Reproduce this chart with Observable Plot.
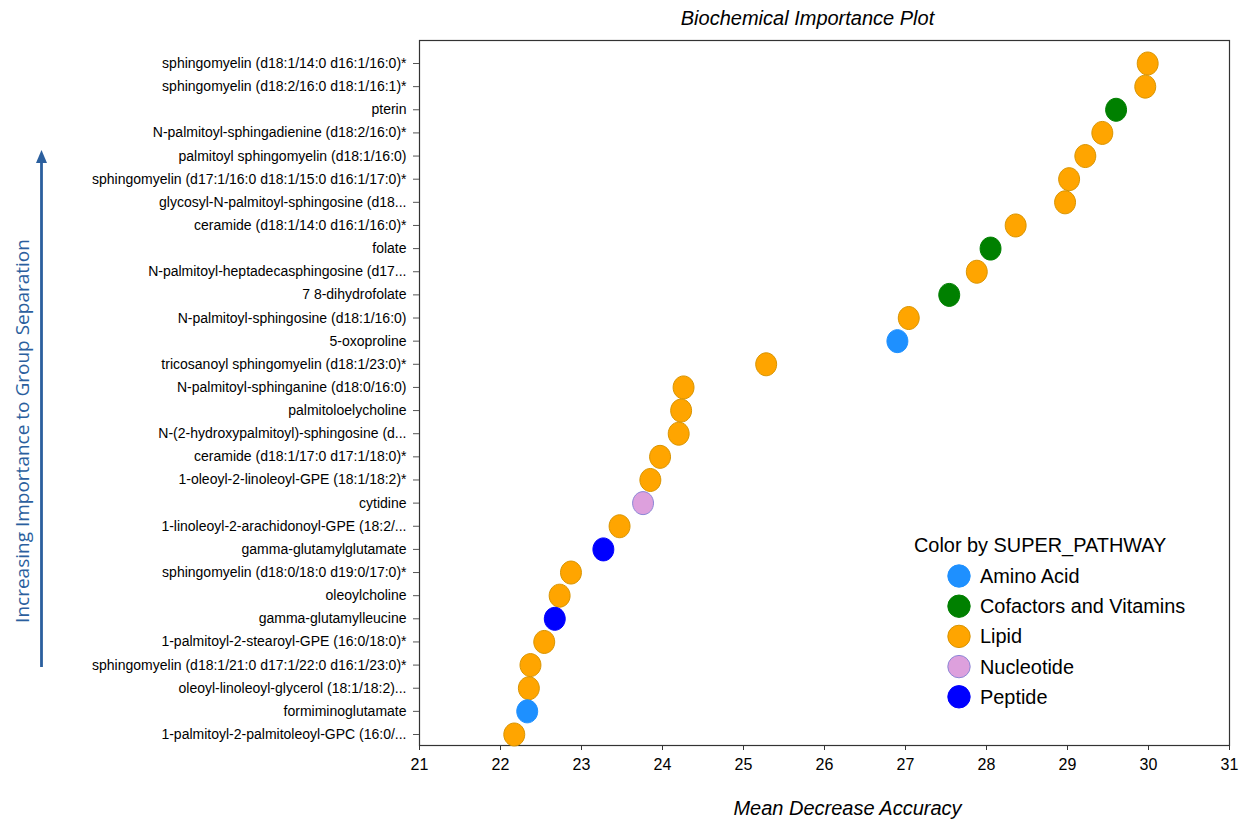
<!DOCTYPE html>
<html>
<head>
<meta charset="utf-8">
<script src="https://cdn.jsdelivr.net/npm/d3@7"></script>
<script src="https://cdn.jsdelivr.net/npm/@observablehq/plot@0.6"></script>
<style>
  html, body { margin: 0; padding: 0; background: #fff; }
  #chart { width: 1242px; height: 820px; }
</style>
</head>
<body>
<div id="chart"></div>
<script>
// ---- data (top row first) ----
const names = [
  "sphingomyelin (d18:1/14:0 d16:1/16:0)*",
  "sphingomyelin (d18:2/16:0 d18:1/16:1)*",
  "pterin",
  "N-palmitoyl-sphingadienine (d18:2/16:0)*",
  "palmitoyl sphingomyelin (d18:1/16:0)",
  "sphingomyelin (d17:1/16:0 d18:1/15:0 d16:1/17:0)*",
  "glycosyl-N-palmitoyl-sphingosine (d18...",
  "ceramide (d18:1/14:0 d16:1/16:0)*",
  "folate",
  "N-palmitoyl-heptadecasphingosine (d17...",
  "7 8-dihydrofolate",
  "N-palmitoyl-sphingosine (d18:1/16:0)",
  "5-oxoproline",
  "tricosanoyl sphingomyelin (d18:1/23:0)*",
  "N-palmitoyl-sphinganine (d18:0/16:0)",
  "palmitoloelycholine",
  "N-(2-hydroxypalmitoyl)-sphingosine (d...",
  "ceramide (d18:1/17:0 d17:1/18:0)*",
  "1-oleoyl-2-linoleoyl-GPE (18:1/18:2)*",
  "cytidine",
  "1-linoleoyl-2-arachidonoyl-GPE (18:2/...",
  "gamma-glutamylglutamate",
  "sphingomyelin (d18:0/18:0 d19:0/17:0)*",
  "oleoylcholine",
  "gamma-glutamylleucine",
  "1-palmitoyl-2-stearoyl-GPE (16:0/18:0)*",
  "sphingomyelin (d18:1/21:0 d17:1/22:0 d16:1/23:0)*",
  "oleoyl-linoleoyl-glycerol (18:1/18:2)...",
  "formiminoglutamate",
  "1-palmitoyl-2-palmitoleoyl-GPC (16:0/..."
];
const values = [
  29.99, 29.96, 29.60, 29.43, 29.22, 29.02, 28.97, 28.36, 28.05, 27.88,
  27.54, 27.04, 26.90, 25.28, 24.26, 24.23, 24.20, 23.97, 23.85, 23.76,
  23.47, 23.27, 22.87, 22.73, 22.67, 22.54, 22.37, 22.35, 22.33, 22.17
];
const pathways = [
  "Lipid", "Lipid", "Cofactors and Vitamins", "Lipid", "Lipid", "Lipid", "Lipid", "Lipid", "Cofactors and Vitamins", "Lipid",
  "Cofactors and Vitamins", "Lipid", "Amino Acid", "Lipid", "Lipid", "Lipid", "Lipid", "Lipid", "Lipid", "Nucleotide",
  "Lipid", "Peptide", "Lipid", "Lipid", "Peptide", "Lipid", "Lipid", "Lipid", "Amino Acid", "Lipid"
];
const pathwayOrder = ["Amino Acid", "Cofactors and Vitamins", "Lipid", "Nucleotide", "Peptide"];
const fillColors = ["#1E90FF", "#008000", "#FFA500", "#DDA0DD", "#0000FF"];
const strokeColors = ["#1E90FF", "#008000", "#D99400", "#8C86D6", "#0000FF"];
const xTicks = [21, 22, 23, 24, 25, 26, 27, 28, 29, 30, 31];

const titleText = "Biochemical Importance Plot";
const xLabelText = "Mean Decrease Accuracy";
const yTitleText = "Increasing Importance to Group Separation";
const legendTitle = "Color by SUPER_PATHWAY";

// ---- build ----
const data = names.map((n, i) => ({ name: n, value: values[i], pathway: pathways[i] }));
const fillOf = p => fillColors[pathwayOrder.indexOf(p)];
const strokeOf = p => strokeColors[pathwayOrder.indexOf(p)];

// slightly tall ellipse symbol (as in the reference)
const ellipse = {
  draw(ctx, size) {
    const r = Math.sqrt(size / Math.PI);
    const rx = r * 0.91, ry = r, k = 0.5523;
    ctx.moveTo(rx, 0);
    ctx.bezierCurveTo(rx, ry * k, rx * k, ry, 0, ry);
    ctx.bezierCurveTo(-rx * k, ry, -rx, ry * k, -rx, 0);
    ctx.bezierCurveTo(-rx, -ry * k, -rx * k, -ry, 0, -ry);
    ctx.bezierCurveTo(rx * k, -ry, rx, -ry * k, rx, 0);
    ctx.closePath();
  }
};

const FONT = "'Liberation Sans', Arial, Helvetica, sans-serif";

const chart = Plot.plot({
  width: 1242,
  height: 820,
  marginLeft: 419,
  marginRight: 13,
  marginTop: 40,
  marginBottom: 75,
  style: { fontFamily: FONT, fontSize: "14px", color: "#000", background: "#fff" },
  x: { domain: [21, 31] },
  y: { type: "point", domain: names, range: [63, 734], padding: 0, round: false },
  marks: [
    Plot.frame({ stroke: "#333", strokeWidth: 1.2 }),
    Plot.axisX({ ticks: xTicks, tickFormat: d => String(d), tickSize: 5, tickPadding: 8, fontSize: 16, label: null, stroke: "#333", fill: "#000" }),
    Plot.axisY({ tickSize: 6, tickPadding: 7, fontSize: 14, label: null, stroke: "#555", fill: "#000" }),
    Plot.dot(data, {
      x: "value", y: "name",
      fill: d => fillOf(d.pathway),
      stroke: d => strokeOf(d.pathway),
      strokeWidth: 1,
      r: 11.5,
      symbol: ellipse
    }),
    Plot.text([titleText], { frameAnchor: "top", dx: -17, dy: -16, lineAnchor: "bottom", fontSize: 20, fontStyle: "italic", fill: "#000" }),
    Plot.text([xLabelText], { frameAnchor: "bottom", dx: 23, dy: 69, lineAnchor: "bottom", fontSize: 20, fontStyle: "italic", fill: "#000" }),
    Plot.text([yTitleText], { frameAnchor: "left", dx: -397, dy: 38, rotate: -90, textAnchor: "middle", lineAnchor: "middle", fontSize: 19, fontFamily: "'Open Sans', sans-serif", fill: "#2B5F9E" })
  ]
});

document.getElementById("chart").appendChild(chart);

// ---- arrow in the left margin ----
const svg = d3.select(chart);
const arrowColor = "#2B5F9E";
svg.append("line")
  .attr("x1", 41.5).attr("x2", 41.5)
  .attr("y1", 667).attr("y2", 162)
  .attr("stroke", arrowColor).attr("stroke-width", 2.8);
svg.append("path")
  .attr("d", "M41.5,150 L36,163 L47,163 Z")
  .attr("fill", arrowColor);

// ---- legend (inside plot area, lower right) ----
const lg = svg.append("g").attr("font-family", FONT).attr("text-anchor", "start");
lg.append("text")
  .attr("x", 914).attr("y", 552)
  .attr("text-anchor", "start")
  .attr("font-size", 19.9).attr("fill", "#000")
  .text(legendTitle);
pathwayOrder.forEach((p, i) => {
  const cy = 576 + i * 30.2;
  lg.append("circle")
    .attr("cx", 959).attr("cy", cy).attr("r", 11.2)
    .attr("fill", fillColors[i]).attr("stroke", strokeColors[i]).attr("stroke-width", 1);
  lg.append("text")
    .attr("x", 980).attr("y", cy).attr("dy", "0.35em")
    .attr("text-anchor", "start")
    .attr("font-size", 19.9).attr("fill", "#000")
    .text(p);
});
</script>
</body>
</html>
